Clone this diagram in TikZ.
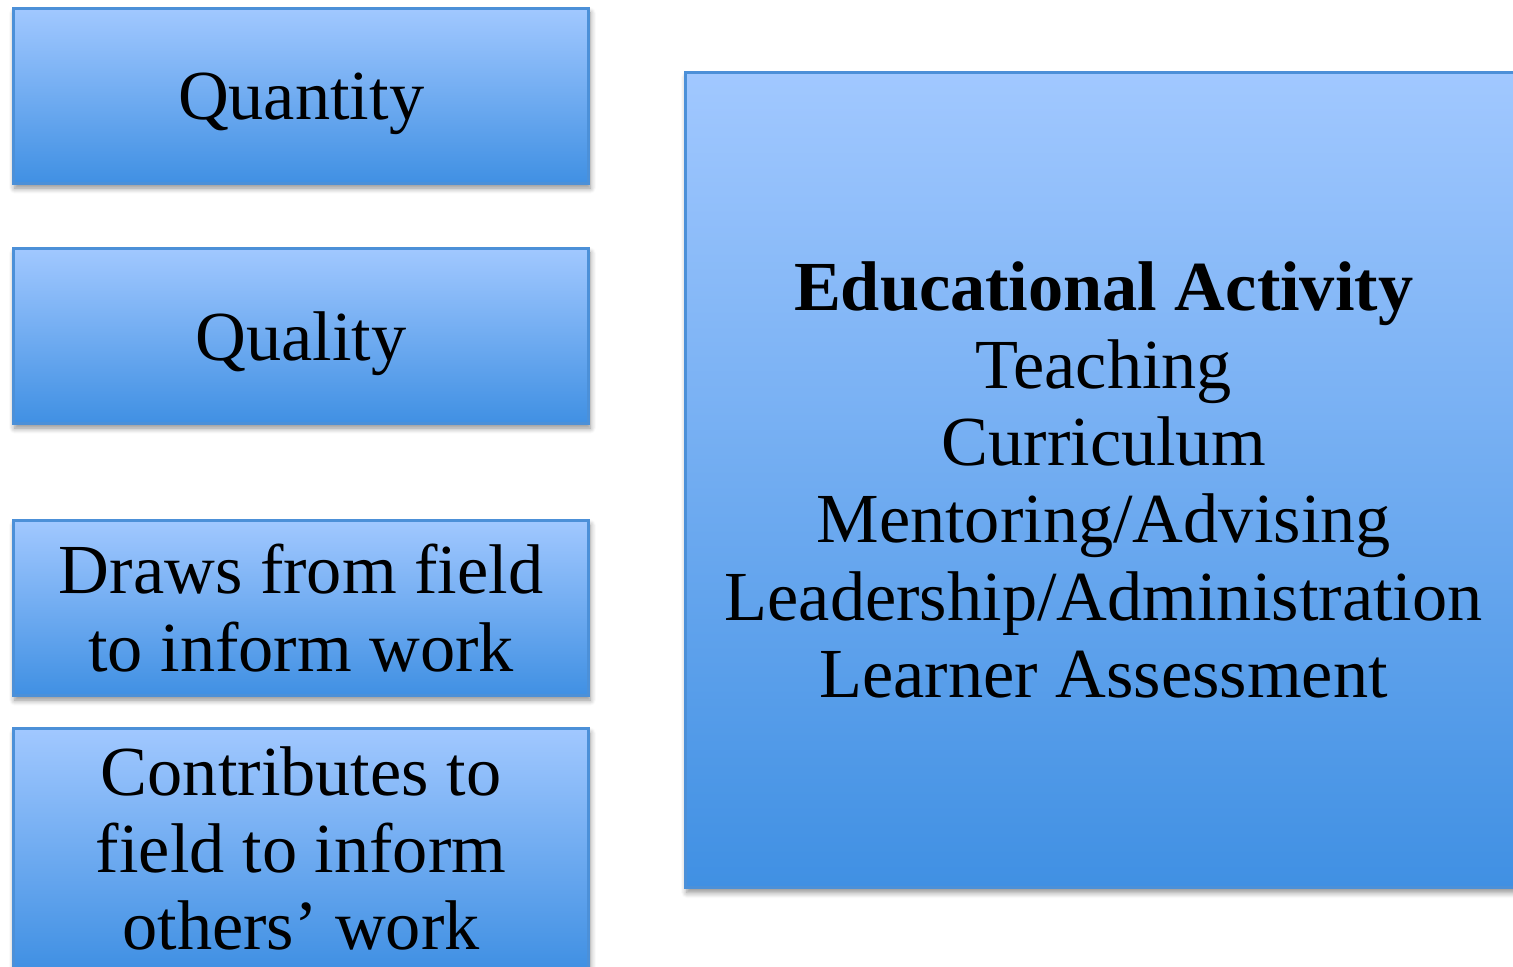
\documentclass[tikz,border=0pt]{standalone}
\usepackage{fontspec}
\setmainfont{Liberation Serif}
\usepackage{tikz}
\usetikzlibrary{positioning,shadows.blur}

\definecolor{boxtop}{RGB}{161,200,255}
\definecolor{boxbot}{RGB}{64,144,227}
\definecolor{boxline}{RGB}{76,144,216}

\begin{document}
\begin{tikzpicture}[x=0.01cm, y=-0.01cm,
    box/.style={draw=boxline, line width=0.8pt, top color=boxtop, bottom color=boxbot,
        anchor=north west, align=center, inner sep=0pt,
        font=\fontsize{20}{22}\selectfont,
        blur shadow={shadow xshift=0.4pt, shadow yshift=-1.3pt, shadow blur radius=1.6pt,
            shadow opacity=45, shadow blur steps=6}},
    sidebox/.style={box, minimum width=5.75cm, minimum height=1.75cm}]
    \useasboundingbox (0,0) rectangle (1513,966);

    % measures on the left
    \node[sidebox, text depth=0pt] (qty) at (12,7) {Quantity};
    \node[sidebox, text depth=0pt] (qual) at (12,247) {Quality};
    \node[sidebox] (draws) at (12,519) {Draws from field\\to inform work};
    \node[sidebox, minimum height=2.40cm] (contrib) at (12,727)
        {Contributes to\\field to inform\\others' work};

    % activity box on the right
    \node[box, minimum width=8.36cm, minimum height=8.15cm] (edu) at (684,71)
        {\textbf{Educational Activity}\\Teaching\\Curriculum\\Mentoring/Advising\\
         Leadership/Administration\\Learner Assessment};
\end{tikzpicture}
\end{document}
